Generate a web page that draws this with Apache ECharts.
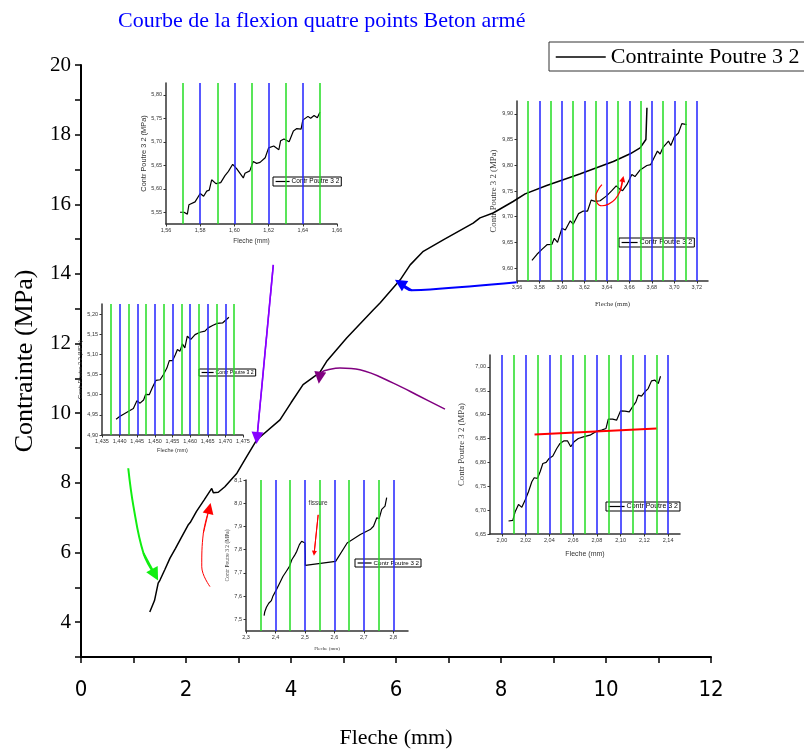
<!DOCTYPE html>
<html>
<head>
<meta charset="utf-8">
<title>Courbe de la flexion quatre points Beton armé</title>
<script src="https://cdn.jsdelivr.net/npm/echarts@6/dist/echarts.min.js"></script>
<style>
  html, body { margin: 0; padding: 0; background: #fff; }
  #chart { width: 804px; height: 749px; }
</style>
</head>
<body>
<div id="chart"></div>
<script>
// ---- Main curve: deflection (mm) vs stress (MPa) ----
const mainX = [1.31,1.40,1.47,1.505,1.60,1.695,1.80,1.90,2.04,2.08,2.20,2.35,2.49,2.52,2.615,2.74,2.97,3.15,3.35,3.79,4.00,4.23,4.46,4.54,4.68,5.06,5.57,5.70,6.08,6.27,6.52,6.90,7.47,7.60,7.85,8.23,8.46,8.87,9.50,10.14,10.46,10.65,10.76,10.78];
const mainY = [4.29,4.62,5.12,5.21,5.52,5.84,6.12,6.40,6.79,6.86,7.18,7.52,7.84,7.72,7.73,7.89,8.28,8.74,9.24,9.81,10.30,10.82,11.07,11.15,11.49,12.16,12.97,13.17,13.83,14.26,14.65,14.98,15.46,15.61,15.75,16.08,16.30,16.54,16.87,17.23,17.45,17.62,17.86,18.77];
const mainXTicks = [0,2,4,6,8,10,12];
const mainYTicks = [4,6,8,10,12,14,16,18,20];

// ---- Detail 1 : 1,56 - 1,66 mm ----
const in1X = [1.5682,1.5705,1.5725,1.5734,1.577,1.580,1.582,1.5838,1.5853,1.5867,1.5892,1.592,1.5945,1.5965,1.599,1.6013,1.6052,1.6062,1.607,1.609,1.611,1.613,1.615,1.618,1.620,1.623,1.626,1.627,1.629,1.632,1.6345,1.6365,1.639,1.640,1.643,1.6446,1.6466,1.6485,1.650];
const in1Y = [5.550,5.550,5.546,5.566,5.572,5.590,5.584,5.595,5.597,5.619,5.611,5.613,5.628,5.637,5.652,5.643,5.623,5.633,5.630,5.638,5.658,5.654,5.656,5.666,5.687,5.691,5.683,5.702,5.706,5.700,5.723,5.728,5.727,5.746,5.754,5.750,5.756,5.751,5.763];
const in1XTicks = [1.56,1.58,1.60,1.62,1.64,1.66];
const in1YTicks = [5.55,5.60,5.65,5.70,5.75,5.80];
const in1Green = [1.57,1.59,1.61,1.63,1.65];
const in1Blue = [1.58,1.60,1.62,1.64];

// ---- Detail 2 : 3,56 - 3,72 mm ----
const in2X = [3.5733,3.5778,3.5822,3.5867,3.591,3.5932,3.5961,3.600,3.603,3.6074,3.610,3.6148,3.619,3.6228,3.626,3.6296,3.634,3.640,3.6444,3.6483,3.6513,3.654,3.6578,3.6622,3.665,3.6696,3.6756,3.679,3.682,3.685,3.6874,3.690,3.6948,3.6969,3.700,3.7037,3.7067,3.711];
const in2Y = [9.615,9.627,9.6365,9.6456,9.646,9.658,9.650,9.6776,9.674,9.692,9.6854,9.706,9.711,9.711,9.7323,9.7297,9.731,9.741,9.7506,9.760,9.7538,9.7506,9.7623,9.782,9.778,9.791,9.7995,9.8014,9.8145,9.8275,9.822,9.835,9.847,9.8386,9.855,9.8627,9.881,9.879];
const in2XTicks = [3.56,3.58,3.60,3.62,3.64,3.66,3.68,3.70,3.72];
const in2YTicks = [9.60,9.65,9.70,9.75,9.80,9.85,9.90];
const in2Green = [3.57,3.59,3.61,3.63,3.65,3.67,3.69,3.71];
const in2Blue = [3.58,3.60,3.62,3.64,3.66,3.68,3.70,3.72];

// ---- Detail 3 : 1,435 - 1,475 mm ----
const in3X = [1.4390,1.4400,1.4411,1.4428,1.4439,1.4449,1.4458,1.4468,1.4474,1.4484,1.4493,1.4503,1.4515,1.4524,1.4534,1.4541,1.4550,1.4558,1.4564,1.4571,1.4578,1.4585,1.4592,1.4602,1.4614,1.4628,1.4642,1.4651,1.4665,1.4677,1.4692,1.4703,1.4710];
const in3Y = [4.939,4.9457,4.9515,4.960,4.9656,4.9847,4.979,4.987,5.001,5.000,5.018,5.0355,5.037,5.0495,5.066,5.0844,5.0844,5.099,5.112,5.1076,5.126,5.116,5.145,5.137,5.149,5.155,5.1575,5.1658,5.1724,5.177,5.178,5.1865,5.192];
const in3XTicks = [1.435,1.440,1.445,1.450,1.455,1.460,1.465,1.470,1.475];
const in3YTicks = [4.90,4.95,5.00,5.05,5.10,5.15,5.20];
const in3Green = [1.4375,1.4425,1.4475,1.4525,1.4575,1.4625,1.4675,1.4725];
const in3Blue = [1.440,1.445,1.450,1.455,1.460,1.465,1.470];

// ---- Detail 4 : 2,00 - 2,14 mm ----
const in4X = [2.0056,2.0092,2.0112,2.0140,2.0168,2.0196,2.0224,2.0252,2.0272,2.0300,2.0322,2.0345,2.0373,2.0398,2.0429,2.0462,2.0490,2.0524,2.0552,2.0580,2.0608,2.0644,2.0686,2.0742,2.0798,2.0840,2.0877,2.0896,2.0933,2.0966,2.1000,2.1036,2.1073,2.1100,2.1129,2.1148,2.1176,2.1204,2.1232,2.1260,2.1289,2.1317,2.1336];
const in4Y = [6.6772,6.6786,6.6967,6.7120,6.7058,6.7211,6.7386,6.7595,6.7679,6.7665,6.7804,6.7978,6.8000,6.8083,6.8132,6.8292,6.8397,6.8453,6.8453,6.8327,6.8432,6.8500,6.8536,6.8571,6.8655,6.8676,6.8711,6.8906,6.8906,6.8885,6.9080,6.9073,6.9059,6.9164,6.9268,6.9408,6.9387,6.9478,6.9547,6.9708,6.9722,6.9652,6.9805];
const in4XTicks = [2.00,2.02,2.04,2.06,2.08,2.10,2.12,2.14];
const in4YTicks = [6.65,6.70,6.75,6.80,6.85,6.90,6.95,7.00];
const in4Green = [2.01,2.03,2.05,2.07,2.09,2.11,2.13];
const in4Blue = [2.00,2.02,2.04,2.06,2.08,2.10,2.12,2.14];

// ---- Detail 5 : 2,3 - 2,8 mm (crack) ----
const in5X = [2.3615,2.3638,2.3694,2.3772,2.3861,2.3917,2.4029,2.4141,2.4253,2.4365,2.4477,2.4555,2.4644,2.4723,2.4812,2.4890,2.4957,2.5002,2.5013,2.5013,2.6043,2.6434,2.6881,2.7217,2.7329,2.7440,2.7519,2.7608,2.7664,2.7720,2.7776];
const in5Y = [7.5159,7.5332,7.5520,7.5693,7.5808,7.6010,7.6270,7.6558,7.6847,7.7063,7.7280,7.7569,7.7742,7.7929,7.8218,7.8362,7.8319,7.8290,7.7742,7.7323,7.7496,7.8290,7.8651,7.8867,7.9011,7.9372,7.9329,7.9733,7.9805,7.9877,8.0238];
const in5XTicks = [2.3,2.4,2.5,2.6,2.7,2.8];
const in5YTicks = [7.5,7.6,7.7,7.8,7.9,8.0,8.1];
const in5Green = [2.35,2.45,2.55,2.65,2.75];
const in5Blue = [2.4,2.5,2.6,2.7,2.8];

// ---- Annotation paths (data coordinates of their own grid, last point = tip) ----
const greenArrow = [[0.90,8.42],[1.00,7.32],[1.19,5.98],[1.41,5.36]];
const redArrow = [[2.457,5.02],[2.30,5.59],[2.33,6.55],[2.444,7.27]];
const violetArrow = [[3.663,14.26],[3.352,9.29]];
const plumArrow = [[6.933,10.118],[6.457,10.48],[5.949,10.865],[5.314,11.247],[4.933,11.296],[4.705,11.247],[4.59,11.19],[4.55,11.10],[4.543,11.017]];
const blueArrow = [[8.30,13.76],[6.65,13.55],[6.30,13.53],[6.076,13.74]];
const loopArrow2 = [[3.6356,9.7623],[3.6326,9.7538],[3.6302,9.7408],[3.6311,9.7278],[3.6356,9.7213],[3.6415,9.7245],[3.6474,9.7343],[3.6519,9.7506],[3.6542,9.7734]];
const redLine4 = [[2.0275,6.8585],[2.1302,6.8711]];
const crackArrow5 = [[2.545,7.95],[2.5315,7.785]];
const crackLabel5 = [2.545,8.0];

const SERIF = '"Liberation Serif", "Times New Roman", serif';
const SANS = '"Liberation Sans", Arial, sans-serif';
const NARROW = '"Liberation Sans Narrow", "DejaVu Sans Condensed", sans-serif';
const GREEN = '#22dd22';
const BLUE = '#2222ff';

const pts = (xs, ys) => xs.map((x, i) => [x, ys[i]]);
const fmt = d => v => v.toFixed(d).replace('.', ',');

const insets = [
  { box: {left:166, top:83, width:171, height:141}, xr:[1.56,1.66], yr:[5.525,5.825],
    xT:in1XTicks, yT:in1YTicks, xD:2, yD:2, xs:in1X, ys:in1Y, g:in1Green, b:in1Blue,
    xName:{f:SANS, s:6.5, gap:14}, yName:{f:SANS, s:7.4, gap:19},
    leg:{left:273, top:177, fs:6.5, iw:14, ih:5} },
  { box: {left:517, top:101, width:191, height:180}, xr:[3.56,3.73], yr:[9.575,9.925],
    xT:in2XTicks, yT:in2YTicks, xD:2, yD:2, xs:in2X, ys:in2Y, g:in2Green, b:in2Blue,
    xName:{f:SERIF, s:6.8, gap:20}, yName:{f:SERIF, s:8.8, gap:18},
    leg:{left:619, top:238, fs:7.2, iw:16, ih:6} },
  { box: {left:102, top:304, width:141, height:131}, xr:[1.435,1.475], yr:[4.90,5.225],
    xT:in3XTicks, yT:in3YTicks, xD:3, yD:2, xs:in3X, ys:in3Y, g:in3Green, b:in3Blue,
    xName:{f:SANS, s:5.5, gap:12}, yName:{f:SANS, s:5.7, gap:15},
    leg:{left:199, top:369, fs:5.2, iw:12, ih:4} },
  { box: {left:490, top:355, width:190, height:179}, xr:[1.99,2.15], yr:[6.65,7.025],
    xT:in4XTicks, yT:in4YTicks, xD:2, yD:2, xs:in4X, ys:in4Y, g:in4Green, b:in4Blue,
    xName:{f:SANS, s:7, gap:17}, yName:{f:SERIF, s:8.8, gap:24},
    leg:{left:606, top:502, fs:7, iw:16, ih:5} },
  { box: {left:246, top:480, width:162, height:151}, xr:[2.3,2.85], yr:[7.45,8.10],
    xT:in5XTicks, yT:in5YTicks, xD:1, yD:1, xs:in5X, ys:in5Y, g:in5Green, b:in5Blue,
    xName:{f:SERIF, s:5, gap:15}, yName:{f:SERIF, s:5.5, gap:14},
    leg:{left:355, top:559, fs:6.2, iw:14, ih:5} }
];

const grid = [{ left:81, top:65, width:630, height:592, show:false, outerBoundsMode:'none' }];
const xAxis = [{
  gridIndex:0, type:'value', min:0, max:12, interval:1,
  axisLine:{ show:true, onZero:false, lineStyle:{ color:'#000', width:2 } },
  axisTick:{ show:true, length:6, lineStyle:{ color:'#000', width:1.5 } },
  axisLabel:{ formatter: v => mainXTicks.includes(v) ? String(v) : '', fontFamily:NARROW, fontSize:22, color:'#000', margin:22 },
  splitLine:{ show:false },
  name:'Fleche (mm)', nameLocation:'middle', nameGap:70,
  nameTextStyle:{ fontFamily:SERIF, fontSize:22, color:'#000' }
}];
const yAxis = [{
  gridIndex:0, type:'value', min:3, max:20, interval:1,
  axisLine:{ show:true, onZero:false, lineStyle:{ color:'#000', width:2 } },
  axisTick:{ show:true, length:6, lineStyle:{ color:'#000', width:1.5 } },
  axisLabel:{ formatter: v => mainYTicks.includes(v) ? String(v) : '', fontFamily:SERIF, fontSize:21, color:'#000', margin:10 },
  splitLine:{ show:false },
  name:'Contrainte (MPa)', nameLocation:'middle', nameGap:43,
  nameTextStyle:{ fontFamily:SERIF, fontSize:26, color:'#000' }
}];

const series = [{
  name:'Contrainte Poutre 3 2', type:'line', xAxisIndex:0, yAxisIndex:0,
  data: pts(mainX, mainY), symbol:'none', showSymbol:false,
  lineStyle:{ color:'#000', width:1.5 }, itemStyle:{ color:'#000' }, z:4
}];

const legend = [{
  data:['Contrainte Poutre 3 2'], left:549, top:42, padding:[4,20,3,6],
  itemWidth:50, itemHeight:18, selectedMode:false,
  borderColor:'#333', borderWidth:1,
  itemStyle:{ opacity:0 }, lineStyle:{ width:1.5, color:'#000' },
  textStyle:{ fontFamily:SERIF, fontSize:22, color:'#000' }
}];

insets.forEach((c, k) => {
  const gi = k + 1;
  grid.push(Object.assign({ show:false, outerBoundsMode:'none' }, c.box));
  xAxis.push({
    gridIndex:gi, type:'value', min:c.xr[0], max:c.xr[1],
    axisLine:{ show:true, onZero:false, lineStyle:{ color:'#333', width:1.5 } },
    axisTick:{ show:true, customValues:c.xT, length:2.5, lineStyle:{ color:'#333', width:1 } },
    axisLabel:{ customValues:c.xT, formatter:fmt(c.xD), fontFamily:SANS, fontSize:5.5, color:'#333', margin:3 },
    splitLine:{ show:false },
    name:'Fleche (mm)', nameLocation:'middle', nameGap:c.xName.gap,
    nameTextStyle:{ fontFamily:c.xName.f, fontSize:c.xName.s, color:'#333' }
  });
  yAxis.push({
    gridIndex:gi, type:'value', min:c.yr[0], max:c.yr[1],
    axisLine:{ show:true, onZero:false, lineStyle:{ color:'#333', width:1.5 } },
    axisTick:{ show:true, customValues:c.yT, length:2.5, lineStyle:{ color:'#333', width:1 } },
    axisLabel:{ customValues:c.yT, formatter:fmt(c.yD), fontFamily:SANS, fontSize:5.5, color:'#333', margin:4 },
    splitLine:{ show:false },
    name:'Contr Poutre 3 2 (MPa)', nameLocation:'middle', nameGap:c.yName.gap,
    nameTextStyle:{ fontFamily:c.yName.f, fontSize:c.yName.s, color:'#333' }
  });
  // reference verticals, drawn beneath the curve
  series.push({
    type:'line', xAxisIndex:gi, yAxisIndex:gi, data:[], silent:true, z:1,
    markLine:{
      silent:true, precision:5, symbol:['none','none'], label:{ show:false }, animation:false,
      lineStyle:{ type:'solid', width:1.5 },
      data: c.g.map(v => ({ xAxis:v, lineStyle:{ color:GREEN, type:'solid', width:1.5 } }))
        .concat(c.b.map(v => ({ xAxis:v, lineStyle:{ color:BLUE, type:'solid', width:1.5 } })))
    }
  });
  series.push({
    name:'Contr Poutre 3 2', type:'line', xAxisIndex:gi, yAxisIndex:gi,
    data: pts(c.xs, c.ys), symbol:'none', showSymbol:false,
    lineStyle:{ color:'#000', width:1.2 }, itemStyle:{ color:'#000' }, z:3
  });
  legend.push({
    data:['Contr Poutre 3 2'], left:c.leg.left, top:c.leg.top, padding:[1,2,1,2],
    itemWidth:c.leg.iw, itemHeight:c.leg.ih, itemGap:0, selectedMode:false,
    borderColor:'#000', borderWidth:1, backgroundColor:'#fff',
    itemStyle:{ opacity:0 }, lineStyle:{ width:1.2, color:'#000' },
    textStyle:{ fontFamily:SANS, fontSize:c.leg.fs, color:'#000', padding:[0,0,0,-3] }
  });
});

// arrow = smooth shaft + a short head segment ending on the tip
function arrow(path, gi, color, width, head) {
  const n = path.length;
  series.push({
    type:'line', xAxisIndex:gi, yAxisIndex:gi, data:path, smooth:n > 2 ? 0.4 : false,
    symbol:'none', silent:true, lineStyle:{ color, width }, itemStyle:{ color }, z:6
  });
  series.push({
    type:'lines', coordinateSystem:'cartesian2d', xAxisIndex:gi, yAxisIndex:gi, silent:true,
    symbol:['none','triangle'], symbolSize:[0, head],
    lineStyle:{ color, width, opacity:1, curveness:0 }, itemStyle:{ color },
    data:[{ coords:[path[n - 2], path[n - 1]] }], z:7
  });
}
arrow(greenArrow, 0, '#11ee11', 2, 13);
arrow(redArrow, 0, '#ff0000', 1, 11);
arrow(violetArrow, 0, '#8800ff', 1.5, 12);
arrow(plumArrow, 0, '#800080', 1.5, 12);
arrow(blueArrow, 0, '#0000ff', 2, 12);
arrow(loopArrow2, 2, '#ff0000', 1.2, 6);
arrow(crackArrow5, 5, '#ff0000', 1, 5);

series.push({
  type:'line', xAxisIndex:4, yAxisIndex:4, data:redLine4, symbol:'none', silent:true,
  lineStyle:{ color:'#ff0000', width:2 }, z:5
});
series.push({
  type:'scatter', xAxisIndex:5, yAxisIndex:5, data:[crackLabel5], silent:true,
  symbolSize:1, itemStyle:{ color:'rgba(0,0,0,0)' },
  label:{ show:true, position:'inside', formatter:'fissure', fontFamily:SANS, fontSize:6.5, color:'#000' }, z:8
});

const chart = echarts.init(document.getElementById('chart'), null, { renderer:'canvas' });
chart.setOption({
  animation:false,
  backgroundColor:'#fff',
  title:{ text:'Courbe de la flexion quatre points Beton armé', left:113, top:5,
    textStyle:{ color:'#0000ff', fontFamily:SERIF, fontSize:22, fontWeight:'normal' } },
  legend, grid, xAxis, yAxis, series
});
</script>
</body>
</html>
